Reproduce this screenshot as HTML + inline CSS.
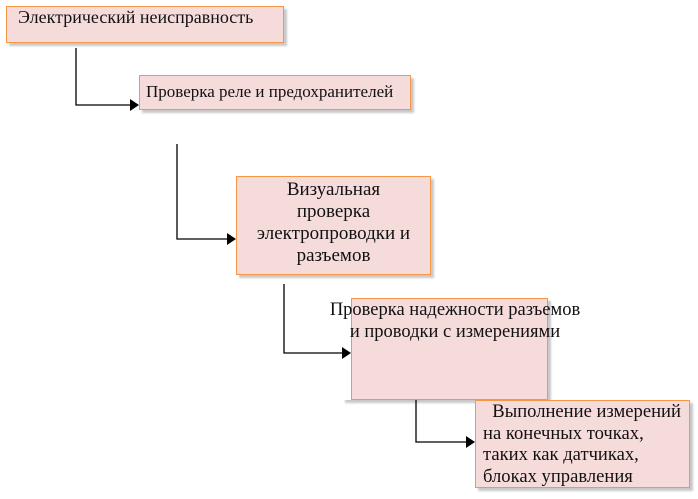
<!DOCTYPE html>
<html><head><meta charset="utf-8"><style>
body{margin:0;width:698px;height:499px;background:#fff;position:relative;overflow:hidden;font-family:"Liberation Serif",serif;font-size:19px;color:#111;}
.b{position:absolute;background:#f6dbdb;border:1.5px solid #f79646;box-sizing:border-box;box-shadow:3px 3px 2px #c8c8c8;line-height:22px;}
.t{position:absolute;white-space:nowrap;line-height:22px;}
svg{position:absolute;left:0;top:0}
</style></head><body>
<div class="b" style="left:6px;top:6px;width:278px;height:37px;"></div>
<div class="t" style="left:18px;top:6px;font-size:18px;">Электрический неисправность</div>
<div class="b" style="left:139px;top:75px;width:272px;height:35px;"></div>
<div class="t" style="left:146px;top:81px;font-size:17px;">Проверка реле и предохранителей</div>
<div class="b" style="left:236px;top:176px;width:195px;height:99px;text-align:center;padding-top:2px;">Визуальная<br>проверка<br>электропроводки и<br>разъемов</div>
<div style="position:absolute;left:343px;top:299px;width:10px;height:101px;background:#fff;box-shadow:2px 3px 2px #c8c8c8;"></div>
<div class="b" style="left:351px;top:298px;width:197px;height:102px;"></div>
<div class="t" style="left:315px;top:299px;width:280px;text-align:center;font-size:18.5px;">Проверка надежности разъемов<br>и проводки с измерениями</div>
<div class="b" style="left:475px;top:400px;width:215px;height:88px;padding-left:7px;line-height:21.5px;font-size:18.6px;">&nbsp;&nbsp;Выполнение измерений<br>на конечных точках,<br>таких как датчиках,<br>блоках управления</div>
<svg width="698" height="499">
<g stroke="#000" stroke-width="1.3" fill="none">
<path d="M76 48V105H131"/>
<path d="M177 144V239H228"/>
<path d="M284 284V353H343"/>
<path d="M416 400V442H467"/>
</g>
<g fill="#000">
<path d="M130 99L139 105L130 111Z"/>
<path d="M227 233L236 239L227 245Z"/>
<path d="M342 347L351 353L342 359Z"/>
<path d="M466 436L475 442L466 448Z"/>
</g>
</svg>
</body></html>
